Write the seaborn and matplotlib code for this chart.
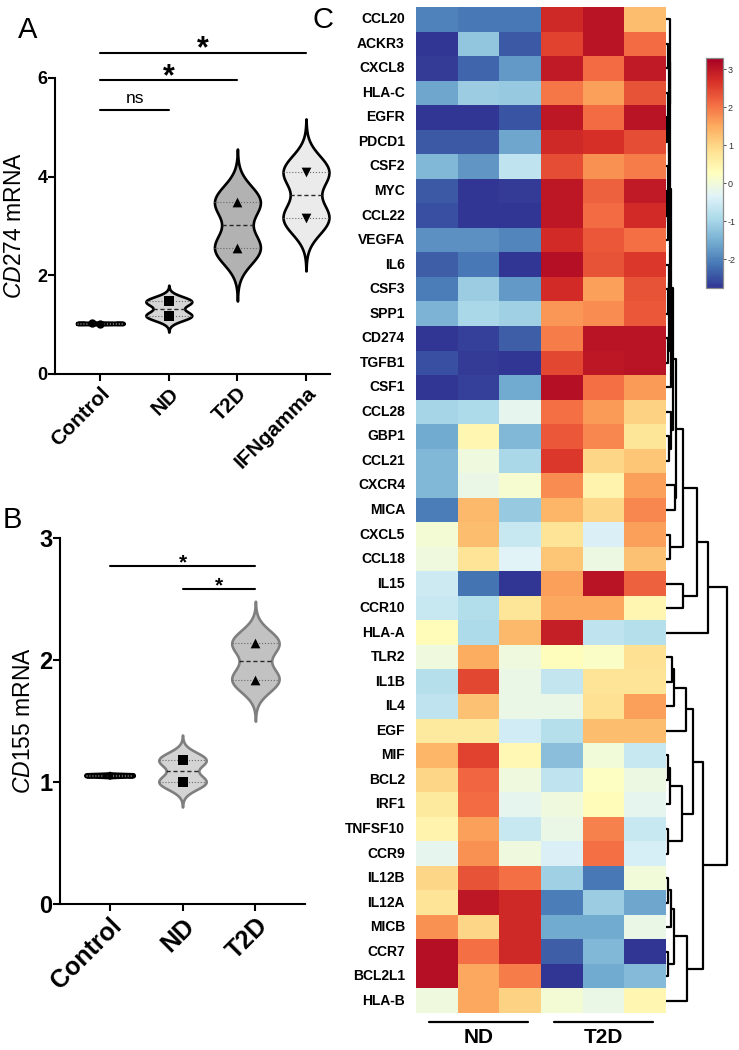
import numpy as np
import pandas as pd
import matplotlib
matplotlib.use("Agg")
import matplotlib.pyplot as plt
from matplotlib.collections import PolyCollection
import seaborn as sns

# ---- panel A : CD274 mRNA ----
groups_a = ["Control", "ND", "T2D", "IFNgamma"]
cd274_control = [1.02, 1.03]
cd274_nd = [1.47, 1.18]
cd274_t2d = [3.49, 2.55]
cd274_ifng = [4.10, 3.16]
sig_a = [("Control", "ND", "ns"), ("Control", "T2D", "*"), ("Control", "IFNgamma", "*")]

# ---- panel B : CD155 mRNA ----
groups_b = ["Control", "ND", "T2D"]
cd155_control = [1.05, 1.06]
cd155_nd = [1.18, 1.00]
cd155_t2d = [2.14, 1.84]
sig_b = [("Control", "T2D", "*"), ("ND", "T2D", "*")]

# ---- panel C : z-scored expression heatmap ----
genes = ["CCL20", "ACKR3", "CXCL8", "HLA-C", "EGFR", "PDCD1", "CSF2", "MYC", "CCL22",
         "VEGFA", "IL6", "CSF3", "SPP1", "CD274", "TGFB1", "CSF1", "CCL28", "GBP1",
         "CCL21", "CXCR4", "MICA", "CXCL5", "CCL18", "IL15", "CCR10", "HLA-A", "TLR2",
         "IL1B", "IL4", "EGF", "MIF", "BCL2", "IRF1", "TNFSF10", "CCR9", "IL12B",
         "IL12A", "MICB", "CCR7", "BCL2L1", "HLA-B"]
nd_1 = [-2.0, -2.75, -2.7, -1.6, -2.75, -2.4, -1.4, -2.4, -2.5, -1.85, -2.35, -2.05, -1.45,
        -2.75, -2.5, -2.75, -1.0, -1.55, -1.4, -1.4, -2.05, 0.05, -0.05, -0.55, -0.6, 0.35,
        -0.05, -0.8, -0.7, 0.7, 1.4, 1.0, 0.7, 0.5, -0.2, 1.0, 0.8, 1.75, 3.1, 3.1, -0.05]
nd_2 = [-2.1, -1.2, -2.3, -1.1, -2.75, -2.4, -1.8, -2.75, -2.75, -1.85, -2.1, -1.1, -0.95,
        -2.65, -2.7, -2.65, -0.9, 0.45, -0.05, -0.15, 1.35, 1.3, 0.8, -2.15, -0.85, -0.9,
        1.5, 2.45, 1.25, 0.7, 2.5, 2.15, 2.1, 1.6, 1.75, 2.35, 3.0, 1.0, 2.05, 1.55, 1.55]
nd_3 = [-2.1, -2.4, -1.75, -1.15, -2.45, -1.6, -0.7, -2.7, -2.75, -1.95, -2.75, -1.75, -1.05,
        -2.35, -2.75, -1.55, -0.2, -1.4, -0.95, 0.1, -1.15, -0.6, -0.3, -2.75, 0.75, 1.35,
        -0.05, -0.15, -0.15, -0.5, 0.4, -0.05, -0.2, -0.6, -0.05, 2.05, 2.8, 2.8, 2.8, 1.95, 1.05]
t2d_1 = [2.8, 2.5, 2.95, 2.0, 3.0, 2.8, 2.4, 3.0, 3.0, 2.75, 3.1, 2.75, 1.7, 1.95, 2.45, 3.1,
         2.05, 2.3, 2.6, 1.8, 1.4, 0.8, 1.2, 1.6, 1.55, 2.9, 0.3, -0.65, -0.15, -0.8, -1.3,
         -0.7, -0.05, -0.15, -0.4, -1.05, -2.05, -1.55, -2.35, -2.75, 0.05]
t2d_2 = [3.05, 3.05, 2.1, 1.6, 2.1, 2.7, 1.75, 2.2, 2.1, 2.3, 2.35, 1.6, 1.8, 3.05, 3.0, 2.05,
         1.65, 1.85, 1.0, 0.5, 1.0, -0.4, -0.1, 3.05, 1.55, -0.7, 0.2, 0.8, 0.85, 1.3, 0.0,
         0.25, 0.35, 1.9, 2.05, -2.1, -1.1, -1.55, -1.4, -1.55, -0.15]
t2d_3 = [1.3, 2.1, 2.95, 2.35, 3.05, 2.4, 1.95, 2.95, 2.75, 2.05, 2.6, 2.35, 2.3, 3.05, 3.05, 1.65,
         1.05, 0.75, 1.2, 1.6, 1.85, 1.6, 1.25, 2.2, 0.45, -0.8, 0.85, 0.8, 1.6, 1.3, -0.6,
         -0.1, -0.2, -0.6, -0.45, 0.0, -1.6, -0.15, -2.75, -1.35, 0.45]
sample_groups = ["ND", "T2D"]

# row dendrogram: (left child, right child, merge height); leaves 0-40, new nodes from 41
row_merges = [
    (4, 5, 1.0), (7, 8, 1.0), (3, 41, 1.5), (42, 9, 1.6), (6, 44, 2.0),      # 41-45
    (43, 45, 2.5), (1, 2, 2.0), (47, 46, 3.0), (0, 48, 3.5), (13, 14, 1.5),  # 46-50
    (11, 12, 1.8), (10, 51, 2.5), (52, 50, 3.0), (49, 53, 4.0), (54, 15, 5.0),  # 51-55
    (17, 18, 3.0), (16, 56, 4.5), (55, 57, 7.0), (19, 20, 9.0), (58, 59, 10.0),  # 56-60
    (21, 22, 4.0), (60, 61, 17.0), (23, 24, 17.0), (62, 63, 31.0), (64, 25, 42.0),  # 61-65
    (26, 27, 6.0), (66, 28, 8.0), (67, 29, 20.0), (30, 31, 1.5), (69, 32, 4.0),  # 66-70
    (33, 34, 2.0), (70, 71, 16.0), (68, 72, 27.0), (35, 36, 2.0), (74, 37, 5.0),  # 71-75
    (38, 39, 2.0), (75, 76, 8.0), (77, 40, 21.0), (73, 78, 37.0), (65, 79, 61.0),  # 76-80
]

sns.set_style("ticks")
plt.rcParams["font.family"] = ["Liberation Sans", "DejaVu Sans"]
plt.rcParams["mathtext.fontset"] = "custom"
plt.rcParams["mathtext.rm"] = "Liberation Sans"
plt.rcParams["mathtext.it"] = "Liberation Sans:italic"
plt.rcParams["axes.unicode_minus"] = False
for key in ["text.color", "axes.labelcolor", "xtick.color", "ytick.color", "axes.edgecolor"]:
    plt.rcParams[key] = "black"

W, H = 739, 1050
fig = plt.figure(figsize=(W / 100, H / 100), dpi=100)


def px_axes(x0, y0, x1, y1):
    return fig.add_axes([x0 / W, 1 - y1 / H, (x1 - x0) / W, (y1 - y0) / H])


def violin_panel(ax, groups, values, fills, markers, edge, msize, width):
    df = pd.DataFrame({"group": np.repeat(groups, [len(v) for v in values]),
                       "value": np.concatenate(values)})
    sns.violinplot(data=df, x="group", y="value", hue="group", order=groups,
                   hue_order=groups, palette=dict(zip(groups, fills)), legend=False,
                   saturation=1, inner="stick",
                   inner_kws=dict(color="#6a6a6a", linewidth=0.8, linestyle=":"),
                   bw_adjust=0.56, cut=3.3, density_norm="width", width=width,
                   linewidth=1.9, linecolor=edge, ax=ax)
    violins = [c for c in ax.collections if isinstance(c, PolyCollection)]
    for i, (poly, vals) in enumerate(zip(violins, values)):
        if i == 0:
            continue  # control is a flat line
        med = np.median(vals)
        v = poly.get_paths()[0].vertices
        right = v[v[:, 0] > i]
        o = np.argsort(right[:, 1])
        hw = np.interp(med, right[o, 1], right[o, 0]) - i
        ax.plot([i - hw, i + hw], [med, med], color="#2a2a2a", lw=1.0, ls=(0, (3, 2)))
    violins[0].set_linewidth(3.0)
    for g, vals, m, s in zip(groups, values, markers, msize):
        sns.swarmplot(x=[g] * len(vals), y=vals, order=groups, marker=m,
                      color="black", size=s, ax=ax)
    return violins


def brackets(ax, groups, sigs, levels, star_size, star_off):
    for (g1, g2, lab), y in zip(sigs, levels):
        x1, x2 = groups.index(g1), groups.index(g2)
        ax.plot([x1, x2], [y, y], color="black", lw=1.5, clip_on=False)
        if lab == "ns":
            ax.annotate(lab, xy=((x1 + x2) / 2, y), xytext=(0, 4.8), textcoords="offset points",
                        ha="center", va="baseline", fontsize=12.5, annotation_clip=False)
        else:
            ax.annotate(lab, xy=((x1 + x2) / 2, y), xytext=(0, star_off),
                        textcoords="offset points", ha="center", va="baseline",
                        fontsize=star_size, fontweight="bold", annotation_clip=False)


def style_axis(ax, ysize, xsize, ticklen):
    sns.despine(ax=ax)
    for s in ["left", "bottom"]:
        ax.spines[s].set_linewidth(1.5)
        ax.spines[s].set_color("black")
    ax.tick_params(width=1.5, length=ticklen, color="black", labelcolor="black")
    ax.tick_params(axis="y", pad=0.5)
    ax.tick_params(axis="x", pad=2)
    for lbl in ax.get_yticklabels():
        lbl.set_fontweight("bold")
        lbl.set_fontsize(ysize)
    for lbl in ax.get_xticklabels():
        lbl.set_fontweight("bold")
        lbl.set_fontsize(xsize)
        lbl.set_rotation(45)
        lbl.set_ha("right")
        lbl.set_rotation_mode("anchor")


# ---------------- panel A ----------------
ax_a = px_axes(55, 78, 330, 374)
violin_panel(ax_a, groups_a, [cd274_control, cd274_nd, cd274_t2d, cd274_ifng],
             ["#ffffff", "#d6d6d6", "#b2b2b2", "#ebebeb"], ["o", "s", "^", "v"],
             "black", [6.0, 6.5, 7.0, 7.0], 0.67)
ax_a.set_xlim(-0.66, 3.35)
ax_a.set_ylim(0, 6)
ax_a.set_yticks([0, 2, 4, 6])
ax_a.set_xlabel("")
ax_a.set_ylabel(r"$\mathit{CD274}$ mRNA", fontsize=16.5, labelpad=8)
style_axis(ax_a, 13, 15, 5)
brackets(ax_a, groups_a, sig_a, [5.35, 5.96, 6.51], 22, -3.5)

# ---------------- panel B ----------------
ax_b = px_axes(60, 538, 305, 904)
vb = violin_panel(ax_b, groups_b, [cd155_control, cd155_nd, cd155_t2d],
                  ["#ffffff", "#d4d4d4", "#c2c2c2"], ["o", "s", "^"],
                  "#7f7f7f", [3.5, 6.5, 7.0], 0.65)
vb[0].set_edgecolor("black")
ax_b.set_xlim(-0.68, 2.68)
ax_b.set_ylim(0, 3)
ax_b.set_yticks([0, 1, 2, 3])
ax_b.set_xlabel("")
ax_b.set_ylabel(r"$\mathit{CD155}$ mRNA", fontsize=16.5, labelpad=3)
style_axis(ax_b, 17, 18, 5)
brackets(ax_b, groups_b, sig_b, [2.77, 2.58], 15, -1.8)

# ---------------- panel C ----------------
ax_h = px_axes(416, 7, 666, 1013)
ax_cb = px_axes(706, 58, 723, 288)
heat = pd.DataFrame({"ND1": nd_1, "ND2": nd_2, "ND3": nd_3,
                     "T2D1": t2d_1, "T2D2": t2d_2, "T2D3": t2d_3}, index=genes)
sns.heatmap(heat, ax=ax_h, cmap="RdYlBu_r", vmin=-2.75, vmax=3.3, cbar_ax=ax_cb,
            xticklabels=False, yticklabels=True)
ax_h.set_yticks(np.arange(len(genes)) + 0.5, labels=genes, fontsize=10,
                fontweight="bold", rotation=0)
ax_h.tick_params(axis="y", length=0, pad=8, labelcolor="black")
ax_h.set_ylabel("")

cbar = ax_h.collections[0].colorbar
cbar.set_ticks([-2, -1, 0, 1, 2, 3])
cbar.outline.set_edgecolor("#8c8c8c")
cbar.outline.set_linewidth(0.9)
ax_cb.tick_params(labelsize=6.5, length=2.5, width=0.6, colors="#333333", pad=1)

# sample group bars under the heatmap
n_per = heat.shape[1] // len(sample_groups)
for k, g in enumerate(sample_groups):
    c = n_per * k + n_per / 2
    ax_h.plot([c - 1.19, c + 1.19], [41.37, 41.37], color="black", lw=1.6, clip_on=False)
    ax_h.text(c, 42.22, g, ha="center", va="baseline", fontsize=15, fontweight="bold")

# row dendrogram
ax_d = px_axes(666, 7, 739, 1013)
pos = {i: i + 0.5 for i in range(len(genes))}
hgt = {i: 0.0 for i in range(len(genes))}
for k, (a, b, h) in enumerate(row_merges):
    node = len(genes) + k
    ax_d.plot([hgt[a], h, h, hgt[b]], [pos[a], pos[a], pos[b], pos[b]],
              color="black", lw=1.6, solid_capstyle="butt")
    pos[node] = (pos[a] + pos[b]) / 2
    hgt[node] = h
ax_d.set_ylim(len(genes), 0)
ax_d.set_xlim(0, 73)
ax_d.axis("off")

# panel letters
fig.text(18 / W, 1 - 38 / H, "A", fontsize=21, va="baseline")
fig.text(3 / W, 1 - 528 / H, "B", fontsize=21, va="baseline")
fig.text(313 / W, 1 - 28 / H, "C", fontsize=21, va="baseline")

fig.savefig("out.png", dpi=100)
